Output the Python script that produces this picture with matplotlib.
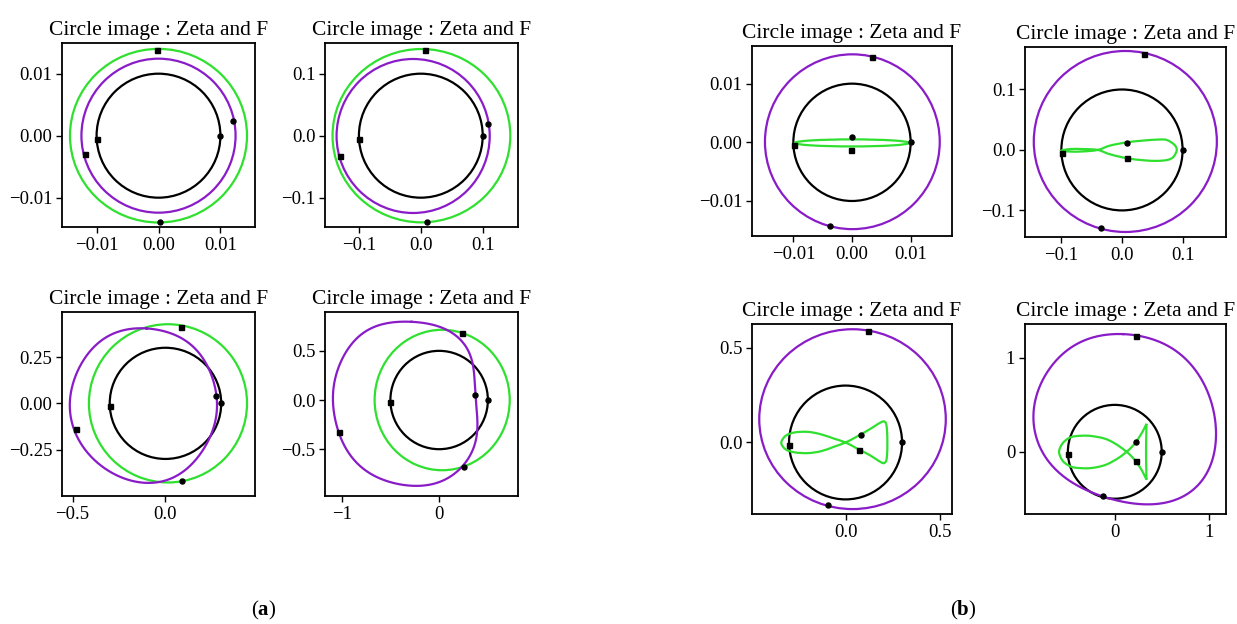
import numpy as np
import matplotlib
matplotlib.use("Agg")
import matplotlib.pyplot as plt
from matplotlib.path import Path
from matplotlib.patches import PathPatch, Ellipse

plt.rcParams['font.family'] = ['Liberation Serif', 'DejaVu Serif']
plt.rcParams['mathtext.fontset'] = 'custom'
plt.rcParams['mathtext.rm'] = 'Liberation Serif'
plt.rcParams['mathtext.bf'] = 'Liberation Serif:bold'

# ---------------------------------------------------------------- data
radii = [0.01, 0.1, 0.3, 0.5]
title = "Circle image : Zeta and F"

ZETA_C = "#8a1cc8"
F_C = "#2fe02f"

# near-circular images: (centre x, centre y, semi-axis x, semi-axis y)
zeta_a_ovals = {0: (0.0, 0.0, 0.01245, 0.01242),
                1: (-0.0124, -0.0005, 0.1237, 0.1242)}
f_a_ovals = {0: (0.0, 0.0, 0.0143, 0.0140),
             1: (0.001, 0.0, 0.1436, 0.1398),
             2: (0.0135, 0.0, 0.4256, 0.4270),
             3: (0.031, 0.0, 0.693, 0.714)}
zeta_b_ovals = {0: (0.00006, 0.0001, 0.0149, 0.0149),
                1: (0.0055, 0.014, 0.151, 0.1497),
                2: (0.037, 0.123, 0.495, 0.474)}
f_b_ovals = {0: (0.0, -0.0001, 0.00975, 0.0006)}

# traced images (closed outlines)
zeta_a_r3_x = [-0.102, 0.005, 0.095, 0.167, 0.220, 0.256, 0.274, 0.278, 0.268, 0.245,
               0.208, 0.155, 0.085, -0.005, -0.102, -0.192, -0.281, -0.371, -0.443,
               -0.487, -0.511, -0.514, -0.505, -0.470, -0.416, -0.344, -0.263, -0.180]
zeta_a_r3_y = [0.403, 0.385, 0.349, 0.286, 0.214, 0.124, 0.041, -0.030, -0.100, -0.170,
               -0.240, -0.312, -0.378, -0.418, -0.428, -0.415, -0.379, -0.317, -0.236,
               -0.150, -0.074, 0.000, 0.088, 0.178, 0.268, 0.340, 0.385, 0.403]

zeta_a_r5_x = [-0.283, -0.150, -0.027, 0.060, 0.143, 0.246, 0.314, 0.348, 0.365, 0.372,
               0.385, 0.395, 0.375, 0.325, 0.246, 0.143, 0.000, -0.140, -0.266, -0.400,
               -0.530, -0.710, -0.860, -0.970, -1.027, -1.070, -1.092, -1.082, -1.045,
               -0.980, -0.880, -0.750, -0.608, -0.437]
zeta_a_r5_y = [0.793, 0.785, 0.755, 0.722, 0.675, 0.578, 0.476, 0.340, 0.204, 0.048,
               -0.120, -0.270, -0.420, -0.545, -0.665, -0.760, -0.835, -0.868, -0.871,
               -0.860, -0.825, -0.745, -0.625, -0.470, -0.330, -0.180, -0.034, 0.120,
               0.290, 0.450, 0.590, 0.700, 0.765, 0.793]

zeta_b_r5_x = [0.089, 0.231, 0.380, 0.552, 0.765, 0.925, 1.032, 1.078, 1.068, 1.014,
               0.907, 0.765, 0.552, 0.302, 0.089, -0.125, -0.267, -0.445, -0.659, -0.800,
               -0.850, -0.872, -0.836, -0.747, -0.605, -0.427, -0.196]
zeta_b_r5_y = [1.255, 1.240, 1.205, 1.138, 0.979, 0.766, 0.518, 0.270, 0.057, -0.156,
               -0.333, -0.457, -0.539, -0.557, -0.535, -0.478, -0.422, -0.333, -0.160,
               0.056, 0.220, 0.376, 0.589, 0.801, 0.996, 1.138, 1.227]

f_b_r1_x = [-0.0997, -0.085, -0.065, -0.040, -0.020, 0.008, 0.035, 0.057, 0.075, 0.0848,
            0.0904, 0.086, 0.0738, 0.060, 0.035, 0.008, -0.0198, -0.040, -0.065, -0.085]
f_b_r1_y = [-0.001, 0.0015, 0.0015, 0.0, -0.0071, -0.0137, -0.0170, -0.0181, -0.0165,
            -0.0115, 0.0, 0.0090, 0.0165, 0.0172, 0.0155, 0.0126, 0.0072, 0.0, -0.0025,
            -0.0027]

f_b_r3_x = [-0.341, -0.318, -0.270, -0.200, -0.130, -0.060, 0.000, 0.058, 0.129, 0.173,
            0.200, 0.214, 0.220, 0.222, 0.220, 0.214, 0.200, 0.173, 0.129, 0.058, 0.000,
            -0.060, -0.130, -0.200, -0.270, -0.318]
f_b_r3_y = [-0.002, 0.035, 0.053, 0.056, 0.043, 0.020, 0.000, -0.030, -0.067, -0.095,
            -0.109, -0.100, -0.070, -0.004, 0.065, 0.102, 0.111, 0.098, 0.070, 0.030, 0.000,
            -0.022, -0.046, -0.056, -0.052, -0.036]

f_b_r5_x = [-0.594, -0.560, -0.500, -0.430, -0.300, -0.196, -0.100, -0.018, 0.060, 0.125,
            0.175, 0.224, 0.267, 0.305, 0.338, 0.335, 0.333, 0.335, 0.338, 0.305, 0.267,
            0.224, 0.175, 0.125, 0.060, -0.018, -0.100, -0.196, -0.300, -0.430, -0.500,
            -0.560]
f_b_r5_y = [0.000, 0.085, 0.140, 0.165, 0.172, 0.160, 0.138, 0.100, 0.050, 0.000,
            -0.045, -0.103, -0.163, -0.230, -0.298, -0.150, 0.000, 0.150, 0.298, 0.232,
            0.167, 0.103, 0.045, 0.000, -0.052, -0.100, -0.140, -0.165, -0.176, -0.168,
            -0.142, -0.090]
f_b_r5_corners = [14, 18]

# marker positions: image of the start point (dot) and of the half-way point (square)
black_dots = [(0.01, 0.0), (0.1, 0.0), (0.3, 0.0), (0.5, 0.0)]
black_squares = [(-0.00995, -0.0005), (-0.0995, -0.005), (-0.2996, -0.015), (-0.4994, -0.025)]
zeta_a_dots = [(0.0120, 0.0023), (0.109, 0.0188), (0.274, 0.041), (0.372, 0.048)]
zeta_a_squares = [(-0.0118, -0.0030), (-0.1306, -0.0333), (-0.482, -0.140), (-1.027, -0.330)]
f_a_dots = [(0.0003, -0.0140), (0.0097, -0.1400), (0.091, -0.419), (0.259, -0.680)]
f_a_squares = [(-0.0002, 0.0139), (0.007, 0.139), (0.082, 0.412), (0.235, 0.680)]
zeta_b_dots = [(-0.0038, -0.01426), (-0.0347, -0.1297), (-0.092, -0.328), (-0.125, -0.475)]
zeta_b_squares = [(0.00347, 0.01449), (0.0369, 0.158), (0.118, 0.588), (0.231, 1.237)]
f_b_dots = [(0.00006, 0.00097), (0.0088, 0.011), (0.080, 0.042), (0.224, 0.105)]
f_b_squares = [(-0.0001, -0.00125), (0.0077, -0.0126), (0.072, -0.042), (0.224, -0.103)]

# axes frames
a_xlims = [(-0.01559, 0.01559), (-0.1548, 0.157), (-0.557, 0.482), (-1.171, 0.809)]
a_ylims = [(-0.01473, 0.01495), (-0.1473, 0.1495), (-0.500, 0.493), (-0.976, 0.895)]
b_xlims = [(-0.01705, 0.01705), (-0.160, 0.1716), (-0.4965, 0.565), (-0.957, 1.185)]
b_ylims = [(-0.01597, 0.01642), (-0.144, 0.1703), (-0.377, 0.6246), (-0.663, 1.362)]
a_xticks = [[-0.01, 0.0, 0.01], [-0.1, 0.0, 0.1], [-0.5, 0.0], [-1, 0]]
a_yticks = [[-0.01, 0.0, 0.01], [-0.1, 0.0, 0.1], [-0.25, 0.0, 0.25], [-0.5, 0.0, 0.5]]
b_xticks = [[-0.01, 0.0, 0.01], [-0.1, 0.0, 0.1], [0.0, 0.5], [0, 1]]
b_yticks = [[-0.01, 0.0, 0.01], [-0.1, 0.0, 0.1], [0.0, 0.5], [0, 1]]

# panel frames in pixels: (left, right, top, bottom)
a_boxes = [(62, 255, 43, 227), (325, 518, 43, 227), (62, 255, 312, 496), (325, 518, 312, 496)]
b_boxes = [(752, 952, 46, 236), (1025, 1226, 47, 237), (752, 952, 324, 514), (1025, 1226, 324, 514)]

# ---------------------------------------------------------------- drawing
W, H = 1237, 624
fig = plt.figure(figsize=(W / 100, H / 100), dpi=100)

LW = 1.6


def frame(box):
    l, r, t, b = box
    return [l / W, 1 - b / H, (r - l) / W, (b - t) / H]


def bezier_outline(xs, ys, corners=()):
    """Closed outline through the traced vertices, with sharp turns at corners."""
    pts = np.column_stack([xs, ys]).astype(float)
    n = len(pts)
    verts = [pts[0]]
    codes = [Path.MOVETO]
    for i in range(n):
        p0, p1 = pts[i - 1], pts[i]
        p2, p3 = pts[(i + 1) % n], pts[(i + 2) % n]
        t1 = np.zeros(2) if i in corners else (p2 - p0) / 6.0
        t2 = np.zeros(2) if (i + 1) % n in corners else (p3 - p1) / 6.0
        verts += [p1 + t1, p2 - t2, p2]
        codes += [Path.CURVE4] * 3
    verts.append(pts[0])
    codes.append(Path.CLOSEPOLY)
    return Path(verts, codes)


def harmonic_outline(xs, ys, order, n=720):
    """Smooth closed outline: low-order periodic least-squares fit to the traced vertices."""
    pts = np.column_stack([xs, ys]).astype(float)
    seg = np.linalg.norm(np.diff(np.vstack([pts, pts[:1]]), axis=0), axis=1)
    t = np.concatenate([[0.0], np.cumsum(seg)[:-1]]) / seg.sum() * 2 * np.pi

    def basis(tt):
        cols = [np.ones_like(tt)]
        for k in range(1, order + 1):
            cols += [np.cos(k * tt), np.sin(k * tt)]
        return np.column_stack(cols)

    A = basis(t)
    cx = np.linalg.lstsq(A, pts[:, 0], rcond=None)[0]
    cy = np.linalg.lstsq(A, pts[:, 1], rcond=None)[0]
    tt = np.linspace(0, 2 * np.pi, n)
    B = basis(tt)
    return B @ cx, B @ cy


def draw_oval(ax, oval, color):
    cx, cy, hw, hh = oval
    ax.add_patch(Ellipse((cx, cy), 2 * hw, 2 * hh, fill=False, ec=color, lw=LW))


def draw_trace(ax, xs, ys, color, corners=()):
    ax.add_patch(PathPatch(bezier_outline(xs, ys, corners), fill=False, ec=color,
                           lw=LW, joinstyle='miter'))


def draw_smooth(ax, xs, ys, color, order=6):
    sx, sy = harmonic_outline(xs, ys, order)
    ax.plot(sx, sy, color=color, lw=LW)


def draw_markers(ax, dot, square):
    ax.plot([dot[0]], [dot[1]], 'o', color='black', ms=3.6, zorder=5)
    ax.plot([square[0]], [square[1]], 's', color='black', ms=3.6, zorder=5)


def style(ax, xlim, ylim, xt, yt):
    ax.set_xlim(*xlim)
    ax.set_ylim(*ylim)
    ax.set_xticks(xt)
    ax.set_yticks(yt)
    ax.tick_params(direction='out', length=4, width=1.0, labelsize=13.5, pad=3)
    for sp in ax.spines.values():
        sp.set_linewidth(1.3)
    ax.set_title(title, fontsize=15.5, pad=6)


for k, r in enumerate(radii):
    # group (a)
    ax = fig.add_axes(frame(a_boxes[k]))
    ax.add_patch(Ellipse((0, 0), 2 * r, 2 * r, fill=False, ec='black', lw=LW))
    if k in zeta_a_ovals:
        draw_oval(ax, zeta_a_ovals[k], ZETA_C)
    elif k == 2:
        draw_smooth(ax, zeta_a_r3_x, zeta_a_r3_y, ZETA_C, order=6)
    else:
        draw_smooth(ax, zeta_a_r5_x, zeta_a_r5_y, ZETA_C, order=7)
    draw_oval(ax, f_a_ovals[k], F_C)
    draw_markers(ax, black_dots[k], black_squares[k])
    draw_markers(ax, zeta_a_dots[k], zeta_a_squares[k])
    draw_markers(ax, f_a_dots[k], f_a_squares[k])
    style(ax, a_xlims[k], a_ylims[k], a_xticks[k], a_yticks[k])

    # group (b)
    ax = fig.add_axes(frame(b_boxes[k]))
    ax.add_patch(Ellipse((0, 0), 2 * r, 2 * r, fill=False, ec='black', lw=LW))
    if k in zeta_b_ovals:
        draw_oval(ax, zeta_b_ovals[k], ZETA_C)
    else:
        draw_smooth(ax, zeta_b_r5_x, zeta_b_r5_y, ZETA_C, order=6)
    if k == 0:
        draw_oval(ax, f_b_ovals[0], F_C)
    elif k == 1:
        draw_trace(ax, f_b_r1_x, f_b_r1_y, F_C)
    elif k == 2:
        draw_trace(ax, f_b_r3_x, f_b_r3_y, F_C)
    else:
        draw_trace(ax, f_b_r5_x, f_b_r5_y, F_C, corners=f_b_r5_corners)
    draw_markers(ax, black_dots[k], black_squares[k])
    draw_markers(ax, zeta_b_dots[k], zeta_b_squares[k])
    draw_markers(ax, f_b_dots[k], f_b_squares[k])
    style(ax, b_xlims[k], b_ylims[k], b_xticks[k], b_yticks[k])

fig.text(264 / W, 1 - 610 / H, r'($\mathbf{a}$)', fontsize=15, ha='center', va='center')
fig.text(963 / W, 1 - 610 / H, r'($\mathbf{b}$)', fontsize=15, ha='center', va='center')

fig.savefig('out.png', dpi=100, facecolor='white')
